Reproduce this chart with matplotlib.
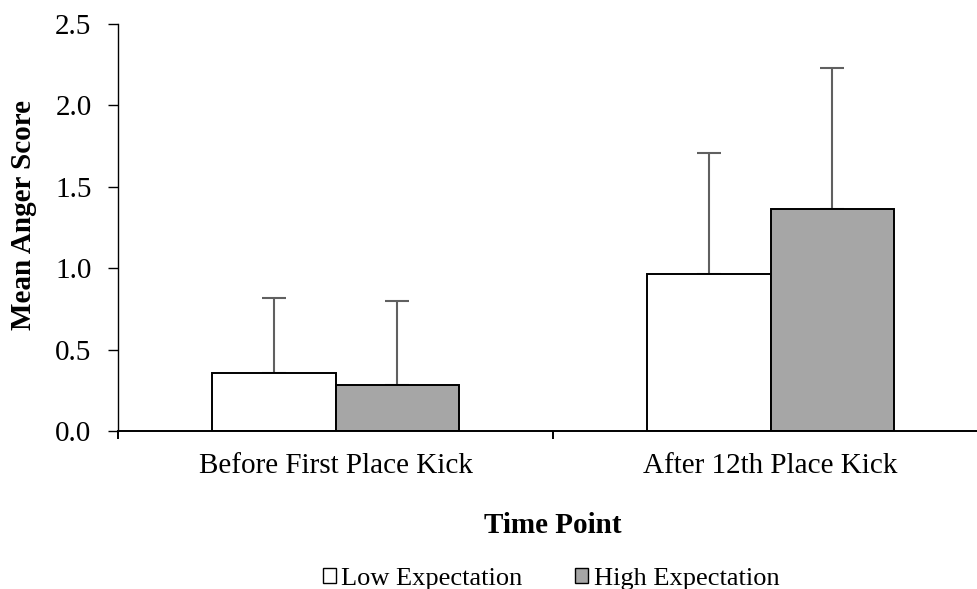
import numpy as np
import matplotlib
matplotlib.use("Agg")
from matplotlib import pyplot as plt
from matplotlib.ticker import FormatStrFormatter

# data
categories = ["Before First Place Kick", "After 12th Place Kick"]
series_names = ["Low Expectation", "High Expectation"]
low_mean = [0.355, 0.965]
low_err = [0.465, 0.745]
high_mean = [0.285, 1.365]
high_err = [0.515, 0.865]

plt.rcParams["font.family"] = ["Liberation Serif", "DejaVu Serif"]

W, H = 978, 589
fig = plt.figure(figsize=(W / 100, H / 100), dpi=100)
# axes spans x 118..988 px (right end is cut off by the image edge), y 24..431 px
ax = fig.add_axes([118 / W, 1 - 431 / H, 870 / W, 407 / H])

x = np.arange(len(categories))
width = 0.2846

err_style = dict(fmt="none", ecolor="#606060", elinewidth=1.5, capsize=8.5,
                 capthick=1.5, zorder=1)
zeros = [0] * len(categories)
ax.errorbar(x - width / 2, low_mean, yerr=[zeros, low_err], **err_style)
ax.errorbar(x + width / 2, high_mean, yerr=[zeros, high_err], **err_style)

ax.bar(x - width / 2, low_mean, width, color="white", edgecolor="black",
       linewidth=1.4, label=series_names[0], zorder=2)
ax.bar(x + width / 2, high_mean, width, color="#a6a6a6", edgecolor="black",
       linewidth=1.4, label=series_names[1], zorder=2)

ax.set_xlim(-0.5, len(categories) - 0.5)
ax.set_ylim(0, 2.5)
ax.set_yticks(np.arange(0, 2.51, 0.5))
ax.yaxis.set_major_formatter(FormatStrFormatter("%.1f"))

ax.set_xticks(x)
ax.set_xticklabels(categories)
ax.set_xticks(np.arange(-0.5, len(categories), 1.0), minor=True)
ax.tick_params(axis="x", which="major", length=0, pad=16, labelsize=21)
ax.tick_params(axis="x", which="minor", length=6, width=1.4, direction="out")
ax.tick_params(axis="y", length=7, width=1.0, direction="out", pad=12,
               labelsize=21)

for side in ["top", "right"]:
    ax.spines[side].set_visible(False)
ax.spines["left"].set_linewidth(1.0)
ax.spines["bottom"].set_linewidth(1.4)

fig.text(24 / W, 1 - 215 / H, "Mean Anger Score", rotation=90, ha="center",
         va="center", fontsize=21, fontweight="bold")
fig.text(553 / W, 1 - 533 / H, "Time Point", ha="center", va="baseline",
         fontsize=21, fontweight="bold")

leg = fig.legend(loc="center", bbox_to_anchor=(551 / W, 1 - 579 / H), ncol=2,
                 frameon=False, fontsize=19, handlelength=0.5, handleheight=0.5,
                 handletextpad=0.2, columnspacing=2.0, borderpad=0)
for patch in leg.get_patches():
    patch.set_linewidth(1.0)

fig.savefig("out.png", dpi=100)
